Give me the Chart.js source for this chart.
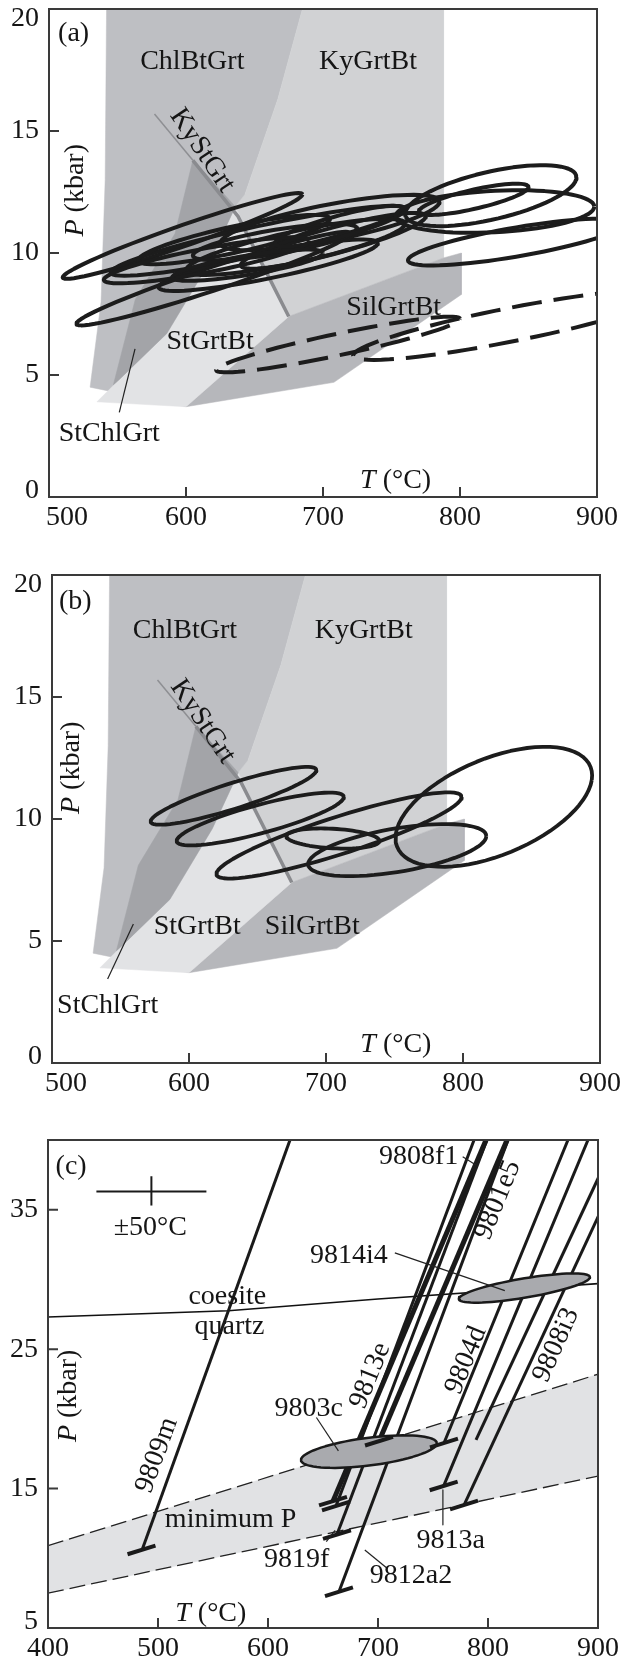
<!DOCTYPE html>
<html>
<head>
<meta charset="utf-8">
<script src="https://cdn.jsdelivr.net/npm/chart.js@4.4.1/dist/chart.umd.min.js"></script>
<style>
body { margin: 0; background: #fff; width: 623px; height: 1661px; overflow: hidden; position: relative; }
canvas { position: absolute; left: 0; }
</style>
</head>
<body>
<canvas id="ca" width="623" height="545" style="top:0px"></canvas>
<canvas id="cb" width="623" height="555" style="top:545px"></canvas>
<canvas id="cc" width="623" height="561" style="top:1100px"></canvas>
<script>
// ---- phase fields (T in °C, P in kbar), same grid in (a) and (b)
var chlBtGrtT = [542, 685, 667, 643, 675, 600, 530, 538, 541];
var chlBtGrtP = [20, 20, 16.3, 12.4, 7.4, 3.7, 4.5, 8, 13];
var kyGrtBtT = [685, 788, 788, 675, 636, 643, 667];
var kyGrtBtP = [20, 20, 9.8, 7.4, 11.9, 12.4, 16.3];
var silGrtBtT = [675, 788, 801, 801, 708, 600];
var silGrtBtP = [7.4, 9.8, 10, 8.3, 4.7, 3.7];
var stGrtBtT = [636, 675, 600, 535, 551, 586, 617];
var stGrtBtP = [11.9, 7.4, 3.7, 3.9, 4.8, 6.7, 9.6];
var stChlGrtT = [605, 620, 636, 617, 586, 551, 547, 563, 592];
var stChlGrtP = [13.8, 12.9, 11.9, 9.6, 6.7, 4.8, 4.6, 8.1, 10.8];
var kyStGrtT = [577, 605, 638, 675];
var kyStGrtP = [15.7, 13.8, 11.5, 7.4];

// ---- (a) P-T loops: ends of long axis + half height (kbar)
var loopsA_T1 = [510, 520, 545, 565, 580, 600, 625, 605, 640, 665, 540, 590, 760, 753, 762, 770];
var loopsA_P1 = [9.0, 7.1, 9.2, 9.7, 8.6, 9.3, 10.4, 9.9, 9.5, 10.4, 8.9, 9.0, 11.6, 11.5, 9.7, 11.7];
var loopsA_T2 = [685, 720, 760, 705, 740, 760, 785, 725, 775, 760, 690, 700, 885, 898, 920, 850];
var loopsA_P2 = [12.4, 10.8, 11.8, 11.4, 10.4, 11.2, 12.1, 11.0, 11.5, 11.8, 10.5, 10.0, 13.1, 11.9, 11.2, 12.7];
var loopsA_H = [0.45, 0.5, 0.6, 0.55, 0.55, 0.65, 0.75, 0.5, 0.55, 0.45, 0.5, 0.4, 1.0, 0.85, 0.6, 0.4];
// dashed loops in (a)
var dashA_T1 = [622, 722];
var dashA_P1 = [5.2, 5.8];
var dashA_T2 = [800, 950];
var dashA_P2 = [7.3, 8.3];
var dashA_H = [0.45, 0.7];

// ---- (b) loops
var loopsB_T1 = [572, 591, 620, 671, 687, 751];
var loopsB_P1 = [9.9, 9.1, 7.75, 9.3, 8.15, 9.4];
var loopsB_T2 = [693, 713, 799, 739, 817, 894];
var loopsB_P2 = [12.0, 10.9, 10.9, 9.1, 9.3, 11.6];
var loopsB_H = [0.55, 0.6, 0.8, 0.4, 0.9, 2.2];
var loopsB_S = [0, 0, 0, 0, 0, 6];

// ---- (c) isopleths: bottom end, top end, width
// 9809m, 9808f1, 9801e5, 9813e, 9819f, 9812a2, 9804d, 9813a, 9808i3, extra
var cLineT1 = [485.5, 659.1, 700.9, 661.8, 662.7, 664.5, 760, 759.7, 778.2, 789.1];
var cLineP1 = [10.6, 14.1, 18.4, 13.75, 11.7, 7.6, 18.27, 15.19, 13.82, 18.49];
var cLineT2 = [620, 798.2, 817.3, 787.3, 799, 818.2, 872.7, 890.9, 901, 901];
var cLineP2 = [40, 40, 40, 40, 40, 40, 40, 40, 34.65, 37.4];
var cLineW = [3, 5, 5, 3, 3, 3, 3, 3, 3, 3];
var barT = [485, 659.1, 661.8, 662.7, 664.5, 700.9, 760, 759.7, 778.2];
var barP = [10.6, 14.1, 13.75, 11.7, 7.6, 18.4, 18.27, 15.19, 13.82];
var minPUpT = [400, 900], minPUpP = [10.9, 23.2];
var minPLoT = [400, 900], minPLoP = [7.5, 15.9];
var coesiteT = [400, 564, 700, 900];
var coesiteP = [27.3, 27.75, 28.6, 29.7];
// 9803c, 9814i4
var ellT1 = [630, 773.5], ellP1 = [17.05, 28.6], ellT2 = [753.5, 892.7], ellP2 = [18.25, 30.16], ellH = [1.0, 0.7];

// ---- labels
var notesA = [['(a)', 518, 19.0, 0], ['ChlBtGrt', 604.6, 17.84, 0], ['KyGrtBt', 732.9, 17.84, 0],
  ['KyStGrt', 611.8, 14.2, 56], ['SilGrtBt', 751.6, 7.78, 0], ['StGrtBt', 617.6, 6.35, 0],
  ['StChlGrt', 544, 2.6, 0], ['*T* (°C)', 753, 0.67, 0], ['*P* (kbar)', 519.6, 12.57, -90]];
var notesB = [['(b)', 517, 18.9, 0], ['ChlBtGrt', 597, 17.7, 0], ['KyGrtBt', 727.5, 17.7, 0],
  ['KyStGrt', 610, 14.0, 56], ['StGrtBt', 606, 5.6, 0], ['SilGrtBt', 690, 5.6, 0],
  ['StChlGrt', 540.6, 2.35, 0], ['*T* (°C)', 751, 0.75, 0], ['*P* (kbar)', 514.5, 12.1, -90]];
var notesC = [['(c)', 421, 38.1, 0], ['±50°C', 493, 33.7, 0], ['coesite', 563, 28.75, 0], ['quartz', 565, 26.6, 0],
  ['9808f1', 737, 38.8, 0], ['9801e5', 809, 35.7, -68], ['9814i4', 673.5, 31.7, 0], ['9813e', 693, 23.1, -68],
  ['9804d', 780, 24.2, -68], ['9808i3', 862, 25.3, -66], ['9803c', 637, 20.7, 0], ['9809m', 499, 17.4, -70],
  ['minimum P', 566, 12.8, 0], ['9813a', 766, 11.3, 0], ['9819f', 626, 9.9, 0], ['9812a2', 730, 8.75, 0],
  ['*T* (°C)', 548, 6.05, 0], ['*P* (kbar)', 419, 21.65, -90]];
var leadA = [[551.3, 3.47, 562.8, 6.07]];
var leadB = [[540.6, 3.44, 559.4, 5.7]];
var leadC = [[715.3, 31.9, 815.3, 29.2], [777, 38.8, 789, 38.2], [644, 20.1, 664, 17.7],
  [759, 14.9, 759, 12.4], [653, 11.2, 661, 12.0], [688, 10.6, 708, 9.3]];

var FONT = '"Liberation Serif", "Times New Roman", serif';

function pts(T, P) {
  return T.map(function (t, i) { return { x: t, y: P[i] }; });
}
function poly(T, P, color) {
  var d = pts(T, P);
  d.push(d[0]);
  return { data: d, showLine: true, fill: 'shape', backgroundColor: color, borderColor: color, borderWidth: 0.5, pointRadius: 0 };
}
function path(d, color, w, dash) {
  return { data: d, showLine: true, fill: false, borderColor: color, borderWidth: w, borderDash: dash || [],
    borderCapStyle: 'butt', borderJoinStyle: 'round', pointRadius: 0 };
}
// closed loop through the two ends of the long axis
function loop(t1, p1, t2, p2, h, s) {
  var cx = (t1 + t2) / 2, cy = (p1 + p2) / 2, ux = (t2 - t1) / 2, uy = (p2 - p1) / 2, d = [];
  for (var i = 0; i <= 72; i++) {
    var a = i / 72 * 2 * Math.PI;
    d.push({ x: cx + ux * Math.cos(a) + (s || 0) * Math.sin(a), y: cy + uy * Math.cos(a) + h * Math.sin(a) });
  }
  return d;
}

function gridSets() {
  return [
    poly(chlBtGrtT, chlBtGrtP, '#bebfc3'),
    poly(kyGrtBtT, kyGrtBtP, '#d1d2d4'),
    poly(silGrtBtT, silGrtBtP, '#b6b7bb'),
    poly(stGrtBtT, stGrtBtP, '#e2e3e5'),
    poly(stChlGrtT, stChlGrtP, '#a3a4a8'),
    path(pts(kyStGrtT.slice(0, 2), kyStGrtP.slice(0, 2)), '#8e8f93', 1.5),
    path(pts(kyStGrtT.slice(1), kyStGrtP.slice(1)), '#8a8b8f', 3.5)
  ];
}

var deco = {
  id: 'deco',
  afterDraw: function (chart) {
    var o = chart.options.plugins.deco, ctx = chart.ctx, a = chart.chartArea;
    var xs = chart.scales.x, ys = chart.scales.y;
    ctx.save();
    ctx.strokeStyle = '#3a3a3a';
    ctx.lineWidth = 2;
    ctx.strokeRect(a.left, a.top, a.right - a.left, a.bottom - a.top);
    ctx.beginPath();
    o.xTicks.forEach(function (v) {
      if (v > xs.min && v < xs.max) {
        var px = xs.getPixelForValue(v);
        ctx.moveTo(px, a.bottom); ctx.lineTo(px, a.bottom - 10);
      }
    });
    o.yTicks.forEach(function (v) {
      var py = ys.getPixelForValue(v);
      ctx.moveTo(a.left, py); ctx.lineTo(a.left + 10, py);
    });
    ctx.stroke();
    ctx.fillStyle = '#151515';
    ctx.font = '28px ' + FONT;
    ctx.textAlign = 'center';
    ctx.textBaseline = 'middle';
    o.xTicks.forEach(function (v, i) {
      ctx.fillText(String(v), xs.getPixelForValue(v) + (i === 0 ? o.firstShift : 0), a.bottom + 21);
    });
    ctx.textAlign = 'right';
    o.yLabels.forEach(function (v) {
      var py = Math.min(Math.max(ys.getPixelForValue(v), a.top + 10), a.bottom - 6);
      ctx.fillText(String(v), a.left - 10, py);
    });
    o.notes.forEach(function (n) {
      var txt = n[0], it = '', rest = txt;
      if (txt.charAt(0) === '*') { it = txt.charAt(1); rest = txt.slice(3); }
      ctx.save();
      ctx.translate(xs.getPixelForValue(n[1]), ys.getPixelForValue(n[2]));
      ctx.rotate(n[3] * Math.PI / 180);
      ctx.textAlign = 'left';
      ctx.font = 'italic 28px ' + FONT;
      var w1 = it ? ctx.measureText(it).width : 0;
      ctx.font = '28px ' + FONT;
      var w2 = ctx.measureText(rest).width, x0 = -(w1 + w2) / 2;
      if (it) { ctx.font = 'italic 28px ' + FONT; ctx.fillText(it, x0, 0); ctx.font = '28px ' + FONT; }
      ctx.fillText(rest, x0 + w1, 0);
      ctx.restore();
    });
    ctx.restore();
  }
};

function build(id, cfg) {
  cfg.datasets.forEach(function (d, i) { d.order = -i; });
  return new Chart(document.getElementById(id), {
    type: 'scatter',
    data: { datasets: cfg.datasets },
    options: {
      responsive: false, animation: false, devicePixelRatio: 1, events: [],
      layout: { padding: { top: cfg.padTop, right: cfg.padRight, left: 0, bottom: 0 } },
      elements: { point: { radius: 0, hoverRadius: 0 }, line: { tension: 0 } },
      plugins: {
        legend: { display: false }, tooltip: { enabled: false },
        deco: { xTicks: cfg.xTicks, yTicks: cfg.yTicks, yLabels: cfg.yLabels, notes: cfg.notes, firstShift: cfg.firstShift }
      },
      scales: {
        x: { type: 'linear', min: cfg.xMin, max: cfg.xMax, grid: { display: false }, border: { display: false },
          ticks: { display: false }, afterFit: function (s) { s.height = cfg.xH; } },
        y: { type: 'linear', min: cfg.yMin, max: cfg.yMax, grid: { display: false }, border: { display: false },
          ticks: { display: false }, afterFit: function (s) { s.width = cfg.yW; } }
      }
    },
    plugins: [deco]
  });
}

// ---- (a)
var setsA = gridSets();
loopsA_T1.forEach(function (t, i) {
  setsA.push(path(loop(t, loopsA_P1[i], loopsA_T2[i], loopsA_P2[i], loopsA_H[i]), '#1c1c1c', 4));
});
dashA_T1.forEach(function (t, i) {
  setsA.push(path(loop(t, dashA_P1[i], dashA_T2[i], dashA_P2[i], dashA_H[i]), '#1c1c1c', 4, [30, 12]));
});
leadA.forEach(function (l) { setsA.push(path(pts([l[0], l[2]], [l[1], l[3]]), '#222', 1.2)); });
build('ca', { datasets: setsA, xMin: 500, xMax: 900, yMin: 0, yMax: 20, padTop: 9, padRight: 26, xH: 48, yW: 49,
  xTicks: [500, 600, 700, 800, 900], yTicks: [5, 10, 15], yLabels: [0, 5, 10, 15, 20], notes: notesA, firstShift: 18 });

// ---- (b)
var setsB = gridSets();
loopsB_T1.forEach(function (t, i) {
  setsB.push(path(loop(t, loopsB_P1[i], loopsB_T2[i], loopsB_P2[i], loopsB_H[i], loopsB_S[i]), '#1c1c1c', 3.8));
});
leadB.forEach(function (l) { setsB.push(path(pts([l[0], l[2]], [l[1], l[3]]), '#222', 1.2)); });
build('cb', { datasets: setsB, xMin: 500, xMax: 900, yMin: 0, yMax: 20, padTop: 30, padRight: 23, xH: 37, yW: 52,
  xTicks: [500, 600, 700, 800, 900], yTicks: [5, 10, 15], yLabels: [0, 5, 10, 15, 20], notes: notesB, firstShift: 14 });

// ---- (c)
var setsC = [
  poly([minPUpT[0], minPUpT[1], minPLoT[1], minPLoT[0]], [minPUpP[0], minPUpP[1], minPLoP[1], minPLoP[0]], '#e1e2e4'),
  path(pts(minPUpT, minPUpP), '#222', 1.3, [16, 6]),
  path(pts(minPLoT, minPLoP), '#222', 1.3, [16, 6]),
  path(pts(coesiteT, coesiteP), '#111', 1.6)
];
cLineT1.forEach(function (t, i) {
  setsC.push(path(pts([t, cLineT2[i]], [cLineP1[i], cLineP2[i]]), '#1a1a1a', cLineW[i]));
});
ellT1.forEach(function (t, i) {
  var e = path(loop(t, ellP1[i], ellT2[i], ellP2[i], ellH[i]), '#1a1a1a', 2.5);
  e.fill = 'shape';
  e.backgroundColor = '#a9aaae';
  setsC.push(e);
});
barT.forEach(function (t, i) {
  setsC.push(path(pts([t - 12.7, t + 12.7], [barP[i] - 0.31, barP[i] + 0.31]), '#1a1a1a', 4));
});
// ±50 °C error cross
setsC.push(path(pts([444, 544], [36.3, 36.3]), '#1a1a1a', 2));
setsC.push(path(pts([494, 494], [35.3, 37.4]), '#1a1a1a', 2));
leadC.forEach(function (l) { setsC.push(path(pts([l[0], l[2]], [l[1], l[3]]), '#222', 1.2)); });
build('cc', { datasets: setsC, xMin: 400, xMax: 900, yMin: 5, yMax: 40, padTop: 40, padRight: 25, xH: 33, yW: 48,
  xTicks: [400, 500, 600, 700, 800, 900], yTicks: [15, 25, 35], yLabels: [5, 15, 25, 35], notes: notesC, firstShift: 0 });
</script>
</body>
</html>
